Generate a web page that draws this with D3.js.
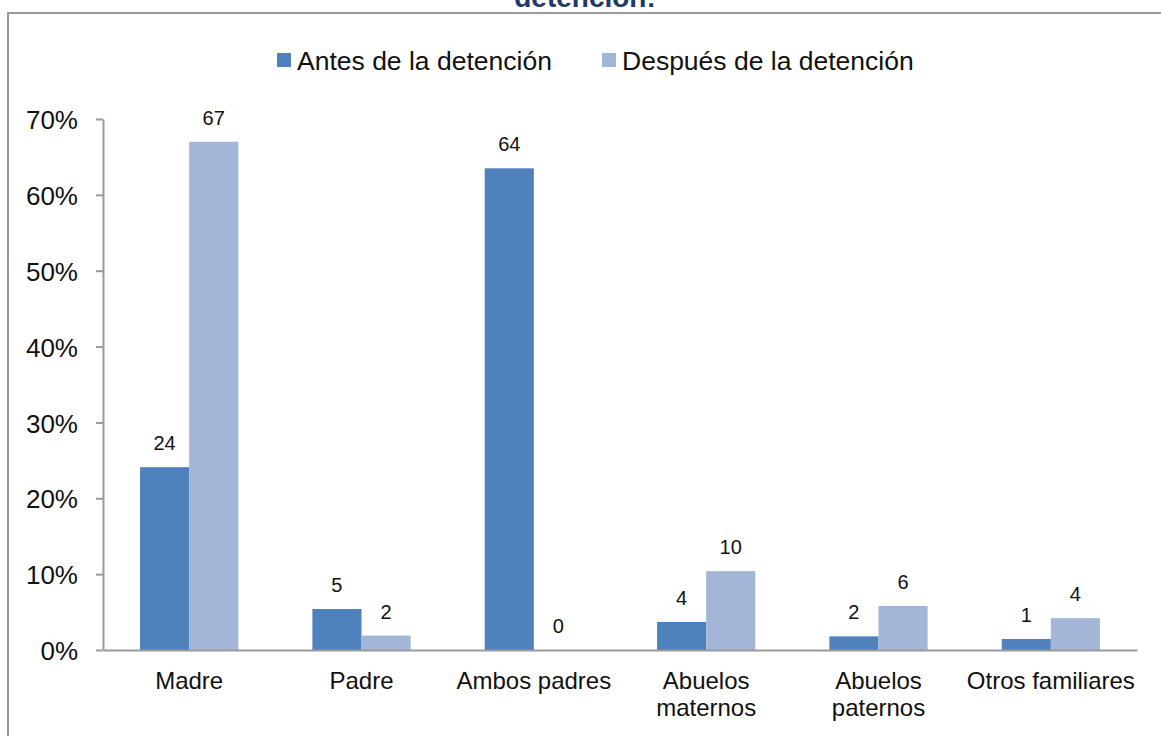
<!DOCTYPE html>
<html lang="es">
<head>
<meta charset="UTF-8">
<title>Antes y después de la detención</title>
<script src="https://d3js.org/d3.v7.min.js"></script>
<style>
  body { margin: 0; background: #fff; }
  svg { display: block; font-family: "Liberation Sans", Arial, sans-serif; }
</style>
</head>
<body>
<div id="chart"></div>
<script>
// data
const categories = ["Madre", "Padre", "Ambos padres", "Abuelos\nmaternos", "Abuelos\npaternos", "Otros familiares"];
const series = ["Antes de la detención", "Después de la detención"];
const antes = [24.1, 5.4, 63.5, 3.7, 1.8, 1.45];
const despues = [67.0, 1.9, 0, 10.4, 5.8, 4.2];
const yTicks = [0, 10, 20, 30, 40, 50, 60, 70];
const colors = ["#4f81bd", "#a4b6d8"];

const width = 1161, height = 736;
const svg = d3.select("#chart").append("svg")
    .attr("width", width)
    .attr("height", height);

// frame + cut-off title (the reference only shows its lower part)
svg.append("text")
    .attr("x", 585).attr("y", 7)
    .attr("text-anchor", "middle")
    .attr("font-weight", "bold")
    .attr("font-size", 28)
    .attr("fill", "#1f3a68")
    .text("detención:");
svg.append("rect")
    .attr("x", 8).attr("y", 13)
    .attr("width", 1300).attr("height", 900)
    .attr("fill", "none")
    .attr("stroke", "#9a9a9a")
    .attr("stroke-width", 2);

const x = d3.scaleBand()
    .domain(categories)
    .range([103, 1137])
    .paddingInner(0.43)
    .paddingOuter(0.215);
const xs = d3.scaleBand()
    .domain(series)
    .range([0, x.bandwidth()]);
const y = d3.scaleLinear()
    .domain([0, 70])
    .range([650, 119]);

const rows = categories.map((c, i) => ({ cat: c, vals: [antes[i], despues[i]] }));

// bars
const group = svg.append("g").selectAll("g")
    .data(rows)
    .join("g")
    .attr("transform", d => `translate(${x(d.cat)},0)`);

group.selectAll("rect")
    .data(d => d.vals.map((v, j) => ({ s: series[j], v, j })))
    .join("rect")
    .attr("x", d => xs(d.s))
    .attr("y", d => y(d.v))
    .attr("width", xs.bandwidth())
    .attr("height", d => y(0) - y(d.v))
    .attr("fill", d => colors[d.j]);

group.selectAll("text")
    .data(d => d.vals.map((v, j) => ({ s: series[j], v })))
    .join("text")
    .attr("x", d => xs(d.s) + xs.bandwidth() / 2)
    .attr("y", d => y(d.v) - 17)
    .attr("text-anchor", "middle")
    .attr("font-size", 20)
    .attr("fill", "#111")
    .text(d => Math.round(d.v));

// y axis
const yAxis = svg.append("g")
    .attr("transform", "translate(103,0)")
    .call(d3.axisLeft(y).tickValues(yTicks).tickFormat(d => d + "%")
        .tickSize(7).tickSizeOuter(0).tickPadding(18));
yAxis.select(".domain").attr("stroke", "#9a9a9a").attr("stroke-width", 2);
yAxis.selectAll(".tick line").attr("stroke", "#9a9a9a").attr("stroke-width", 2);
yAxis.selectAll(".tick text")
    .attr("font-size", 26)
    .attr("fill", "#111")
    .attr("dy", "0.37em");

// x axis
const xAxis = svg.append("g")
    .attr("transform", "translate(0,650)")
    .call(d3.axisBottom(x).tickSize(0).tickSizeOuter(0));
xAxis.select(".domain").attr("stroke", "#9a9a9a").attr("stroke-width", 2);
xAxis.selectAll(".tick text")
    .attr("font-size", 24)
    .attr("fill", "#111")
    .attr("y", 39)
    .attr("dy", null)
    .text(null)
    .each(function(d) {
        const t = d3.select(this);
        d.split("\n").forEach((line, k) => {
            t.append("tspan").attr("x", 0).attr("dy", k ? 27 : 0).text(line);
        });
    });

// legend
const legendX = [277, 602];
const legend = svg.append("g").selectAll("g")
    .data(series)
    .join("g")
    .attr("transform", (d, i) => `translate(${legendX[i]},53)`);
legend.append("rect")
    .attr("width", 14).attr("height", 14)
    .attr("fill", (d, i) => colors[i]);
legend.append("text")
    .attr("x", 20).attr("y", 17)
    .attr("font-size", 26.5)
    .attr("fill", "#111")
    .text(d => d);
</script>
</body>
</html>
